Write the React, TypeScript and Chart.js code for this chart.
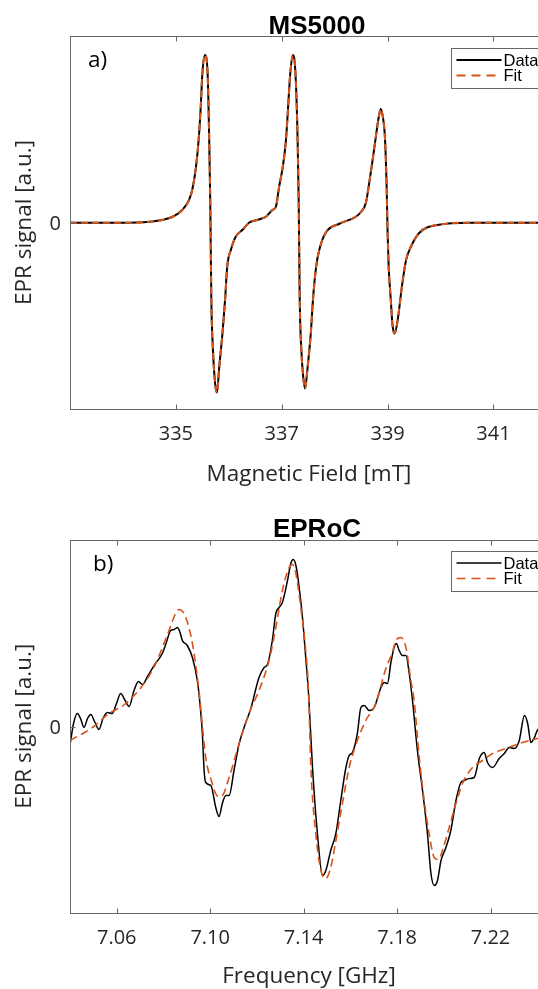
import React, { useEffect, useRef } from "react";
import { Chart, registerables } from "chart.js";

Chart.register(...registerables);

// ---------- Panel a) MS5000 ----------
const fieldA = [
  333.0, 333.93, 334.5, 334.94, 335.125, 335.25, 335.31, 335.38, 335.43, 335.47,
  335.5, 335.55, 335.6, 335.63, 335.65, 335.67, 335.7, 335.74, 335.775, 335.82,
  335.88, 335.93, 335.97, 336.04, 336.13, 336.26, 336.38, 336.55, 336.7, 336.83,
  336.89, 336.95, 337.02, 337.08, 337.14, 337.16, 337.21, 337.26, 337.3, 337.32,
  337.34, 337.37, 337.405, 337.44, 337.49, 337.55, 337.59, 337.65, 337.71, 337.83,
  338.09, 338.4, 338.5, 338.59, 338.65, 338.72, 338.78, 338.83, 338.87, 338.91,
  338.95, 338.98, 339.0, 339.02, 339.06, 339.09, 339.13, 339.18, 339.28, 339.35,
  339.44, 339.6, 339.97, 340.54, 342.0,
];
const signalA = [
  0, 0, 0.01, 0.06, 0.13, 0.23, 0.33, 0.56, 0.83, 1.16,
  1.49, 1.68, 1.49, 0.83, 0.2, -0.77, -1.27, -1.6, -1.7, -1.44,
  -1.11, -0.77, -0.44, -0.27, -0.14, -0.07, 0.0, 0.03, 0.06, 0.13,
  0.16, 0.36, 0.56, 0.83, 1.33, 1.49, 1.68, 1.49, 0.83, 0.23,
  -0.77, -1.27, -1.54, -1.66, -1.44, -1.1, -0.77, -0.44, -0.27, -0.1,
  -0.01, 0.06, 0.11, 0.2, 0.39, 0.64, 0.87, 1.05, 1.14, 1.06,
  0.85, 0.4, -0.1, -0.44, -0.77, -1.01, -1.11, -1.01, -0.6, -0.37,
  -0.24, -0.1, -0.02, 0, 0,
];
// the fit lies exactly on the data in panel a)
const fitFieldA = fieldA;
const fitSignalA = signalA;
const ticksA = [335, 337, 339, 341];
const tickLabelsA = ["335", "337", "339", "341"];

// ---------- Panel b) EPRoC ----------
const freqB = [
  7.04, 7.0403, 7.0416, 7.0431, 7.0445, 7.046, 7.0475, 7.0489, 7.0507, 7.0524,
  7.0541, 7.056, 7.0581, 7.0599, 7.0617, 7.0636, 7.0653, 7.0674, 7.0693, 7.071,
  7.0734, 7.076, 7.0795, 7.0811, 7.0831, 7.0845, 7.086, 7.0871, 7.0881, 7.0902,
  7.0924, 7.0945, 7.0955, 7.0967, 7.0974, 7.0981, 7.1003, 7.1024, 7.1038, 7.1052,
  7.1067, 7.1081, 7.1102, 7.1124, 7.1145, 7.1174, 7.1209, 7.1231, 7.1245, 7.1266,
  7.1281, 7.1295, 7.1309, 7.1331, 7.1345, 7.1356, 7.1367, 7.1381, 7.1395, 7.1409,
  7.1421, 7.1438, 7.1459, 7.1481, 7.1495, 7.1516, 7.1538, 7.1559, 7.1581, 7.1595,
  7.1609, 7.163, 7.1645, 7.1659, 7.1681, 7.1702, 7.1731, 7.1745, 7.1759, 7.1773,
  7.1787, 7.1797, 7.1809, 7.1823, 7.1838, 7.1852, 7.1866, 7.1887, 7.1909, 7.193,
  7.1945, 7.1959, 7.1973, 7.1988, 7.2009, 7.203, 7.2052, 7.2073, 7.2087, 7.2109,
  7.213, 7.2152, 7.2173, 7.2187, 7.2209, 7.2237, 7.2259, 7.228, 7.2302, 7.2323,
  7.2345, 7.2359, 7.2373, 7.2388, 7.24, 7.2446,
];
const signalB = [
  -0.19, -0.14, 0.04, 0.13, 0.08, -0.01, 0.08, 0.12, 0.04, -0.03,
  0.08, 0.14, 0.13, 0.23, 0.33, 0.26, 0.2, 0.36, 0.45, 0.42,
  0.51, 0.61, 0.73, 0.83, 0.96, 0.97, 0.99, 0.94, 0.86, 0.81,
  0.69, 0.46, 0.26, -0.09, -0.44, -0.56, -0.59, -0.81, -0.9, -0.77,
  -0.69, -0.69, -0.44, -0.17, -0.01, 0.18, 0.49, 0.59, 0.62, 0.86,
  1.13, 1.19, 1.24, 1.46, 1.63, 1.67, 1.61, 1.39, 1.09, 0.69,
  0.33, -0.41, -1.07, -1.49, -1.44, -1.24, -1.07, -0.74, -0.41, -0.29,
  -0.26, -0.07, 0.19, 0.21, 0.16, 0.19, 0.39, 0.44, 0.43, 0.63,
  0.79, 0.83, 0.76, 0.71, 0.71, 0.53, 0.26, -0.24, -0.64, -1.07,
  -1.47, -1.59, -1.54, -1.34, -1.21, -1.04, -0.74, -0.56, -0.54, -0.52,
  -0.51, -0.32, -0.26, -0.36, -0.41, -0.32, -0.27, -0.21, -0.22, -0.14,
  0.11, 0.03, -0.16, -0.11, -0.04, 0.02,
];
const fitFreqB = [
  7.04, 7.0496, 7.0567, 7.0639, 7.0752, 7.0824, 7.085, 7.0867, 7.0882, 7.0896,
  7.0924, 7.0952, 7.0981, 7.1009, 7.1023, 7.1035, 7.1052, 7.1081, 7.1124, 7.1166,
  7.1209, 7.1252, 7.1281, 7.1309, 7.1338, 7.1352, 7.1367, 7.1388, 7.1409, 7.1421,
  7.1431, 7.1452, 7.1474, 7.1495, 7.1516, 7.1538, 7.1566, 7.1595, 7.1624, 7.1666,
  7.1709, 7.1752, 7.178, 7.1795, 7.1816, 7.1838, 7.1859, 7.1873, 7.1895, 7.1916,
  7.1937, 7.1959, 7.1977, 7.1994, 7.2023, 7.2052, 7.208, 7.2123, 7.2166, 7.2209,
  7.2266, 7.2323, 7.24, 7.2446,
];
const fitSignalB = [
  -0.14, -0.01, 0.13, 0.23, 0.56, 0.96, 1.12, 1.17, 1.15, 1.09,
  0.83, 0.36, -0.31, -0.57, -0.67, -0.7, -0.69, -0.51, -0.17, 0.13,
  0.36, 0.66, 0.99, 1.36, 1.59, 1.62, 1.53, 1.19, 0.76, 0.36,
  -0.41, -1.07, -1.44, -1.52, -1.41, -1.14, -0.77, -0.41, -0.18, 0.06,
  0.23, 0.58, 0.74, 0.86, 0.89, 0.79, 0.46, 0.26, -0.31, -0.74,
  -1.07, -1.31, -1.33, -1.24, -1.01, -0.77, -0.57, -0.41, -0.34, -0.27,
  -0.22, -0.17, -0.12, -0.09,
];
const ticksB = [7.06, 7.1, 7.14, 7.18, 7.22];
const tickLabelsB = ["7.06", "7.10", "7.14", "7.18", "7.22"];

const yTicks = [0];
const yTickLabels = ["0"];
const legendLabels = ["Data", "Fit"];

const ORANGE = "#D95319";
const AXIS_COLOR = "#666666";
const TEXT_COLOR = "#262626";
const TICK_FONT = '20px "Open Sans", Lato, sans-serif';
const LABEL_FONT = '22.5px "Open Sans", Lato, sans-serif';
const TITLE_FONT = 'bold 26px "Liberation Sans", Arial, sans-serif';
const LEGEND_FONT = '16.5px "Liberation Sans", Arial, sans-serif';

const CANVAS_W = 560;

type PanelCfg = {
  title: string;
  letter: string;
  letterDx: number;
  xLabel: string;
  yLabel: string;
  x: number[];
  y: number[];
  fx: number[];
  fy: number[];
  xMin: number;
  xMax: number;
  xTicks: number[];
  xTickLabels: string[];
  padTop: number;
  padBottom: number;
  xLabelDy: number;
  dataW: number;
  fitW: number;
  dash: number[];
};

function framePlugin(p: PanelCfg) {
  return {
    id: "matlabFrame",
    afterDraw(chart: any) {
      const { ctx, chartArea: a } = chart;
      const xs = chart.scales.x;
      const ys = chart.scales.y;
      const L = Math.round(a.left) + 0.5;
      const R = Math.round(a.right) + 0.5;
      const T = Math.round(a.top) + 0.5;
      const B = Math.round(a.bottom) + 0.5;
      ctx.save();
      // axes box
      ctx.strokeStyle = AXIS_COLOR;
      ctx.lineWidth = 1;
      ctx.setLineDash([]);
      ctx.strokeRect(L, T, R - L, B - T);
      // inward ticks
      ctx.beginPath();
      p.xTicks.forEach((v) => {
        const px = Math.round(xs.getPixelForValue(v)) + 0.5;
        ctx.moveTo(px, B);
        ctx.lineTo(px, B - 5);
        ctx.moveTo(px, T);
        ctx.lineTo(px, T + 5);
      });
      yTicks.forEach((v) => {
        const py = Math.round(ys.getPixelForValue(v)) + 0.5;
        ctx.moveTo(L, py);
        ctx.lineTo(L + 5, py);
        ctx.moveTo(R, py);
        ctx.lineTo(R - 5, py);
      });
      ctx.stroke();

      // tick labels
      ctx.fillStyle = TEXT_COLOR;
      ctx.font = TICK_FONT;
      ctx.textAlign = "center";
      ctx.textBaseline = "alphabetic";
      p.xTicks.forEach((v, i) => {
        ctx.fillText(p.xTickLabels[i], xs.getPixelForValue(v), a.bottom + 30.5);
      });
      ctx.textAlign = "right";
      yTicks.forEach((v, i) => {
        ctx.fillText(yTickLabels[i], a.left - 9, ys.getPixelForValue(v) + 7.5);
      });

      // axis titles
      ctx.font = LABEL_FONT;
      ctx.textAlign = "center";
      ctx.fillText(p.xLabel, (a.left + a.right) / 2, a.bottom + p.xLabelDy);
      ctx.save();
      ctx.translate(30.5, (a.top + a.bottom) / 2);
      ctx.rotate(-Math.PI / 2);
      ctx.fillText(p.yLabel, 0, 0);
      ctx.restore();

      // panel letter
      ctx.fillStyle = "#000";
      ctx.textAlign = "left";
      ctx.fillText(p.letter, a.left + p.letterDx, a.top + 31);

      // title
      ctx.font = TITLE_FONT;
      ctx.textAlign = "center";
      ctx.fillText(p.title, (a.left + a.right) / 2 + 8, a.top - 2.5);

      // legend
      const bx = Math.round(a.left + 381) + 0.5;
      const by = Math.round(a.top + 11.5) + 0.5;
      const bw = 100;
      const bh = 40;
      ctx.fillStyle = "#ffffff";
      ctx.fillRect(bx, by, bw, bh);
      ctx.strokeStyle = AXIS_COLOR;
      ctx.lineWidth = 1;
      ctx.strokeRect(bx, by, bw, bh);
      const rows = [
        { color: "#000000", dash: [] as number[], w: p.dataW },
        { color: ORANGE, dash: [9, 6], w: p.fitW },
      ];
      ctx.font = LEGEND_FONT;
      ctx.textAlign = "left";
      ctx.textBaseline = "middle";
      rows.forEach((r, i) => {
        const ry = by + 11.5 + i * 15.5;
        ctx.beginPath();
        ctx.strokeStyle = r.color;
        ctx.lineWidth = r.w;
        ctx.setLineDash(r.dash);
        ctx.moveTo(bx + 5, ry);
        ctx.lineTo(bx + 50, ry);
        ctx.stroke();
        ctx.setLineDash([]);
        ctx.fillStyle = "#000";
        ctx.fillText(legendLabels[i], bx + 52, ry + 1);
      });
      ctx.restore();
    },
  };
}

function buildConfig(p: PanelCfg): any {
  return {
    type: "line",
    data: {
      datasets: [
        {
          label: legendLabels[0],
          data: p.x.map((x, i) => ({ x, y: p.y[i] })),
          borderColor: "#000000",
          borderWidth: p.dataW,
          pointRadius: 0,
          fill: false,
          cubicInterpolationMode: "monotone",
          order: 1,
        },
        {
          label: legendLabels[1],
          data: p.fx.map((x, i) => ({ x, y: p.fy[i] })),
          borderColor: ORANGE,
          borderWidth: p.fitW,
          borderDash: p.dash,
          pointRadius: 0,
          fill: false,
          cubicInterpolationMode: "monotone",
          order: 0,
        },
      ],
    },
    options: {
      responsive: false,
      animation: false,
      devicePixelRatio: 1,
      events: [],
      layout: {
        padding: { left: 70, right: 12, top: p.padTop, bottom: p.padBottom },
      },
      plugins: {
        legend: { display: false },
        title: { display: false },
        tooltip: { enabled: false },
      },
      scales: {
        x: { type: "linear", display: false, min: p.xMin, max: p.xMax },
        y: { type: "linear", display: false, min: -1.865, max: 1.87 },
      },
    },
    plugins: [framePlugin(p)],
  };
}

const panelA: PanelCfg = {
  title: "MS5000",
  letter: "a)",
  letterDx: 18,
  xLabel: "Magnetic Field [mT]",
  yLabel: "EPR signal [a.u.]",
  x: fieldA,
  y: signalA,
  fx: fitFieldA,
  fy: fitSignalA,
  xMin: 333,
  xMax: 342.03,
  xTicks: ticksA,
  xTickLabels: tickLabelsA,
  padTop: 36,
  padBottom: 85,
  xLabelDy: 71.5,
  dataW: 2,
  fitW: 2,
  dash: [7, 4],
};

const panelB: PanelCfg = {
  title: "EPRoC",
  letter: "b)",
  letterDx: 23,
  xLabel: "Frequency [GHz]",
  yLabel: "EPR signal [a.u.]",
  x: freqB,
  y: signalB,
  fx: fitFreqB,
  fy: fitSignalB,
  xMin: 7.04,
  xMax: 7.2446,
  xTicks: ticksB,
  xTickLabels: tickLabelsB,
  padTop: 45.5,
  padBottom: 76,
  xLabelDy: 70,
  dataW: 1.5,
  fitW: 1.6,
  dash: [8, 4.5],
};

function Panel({ top, height, cfg }: { top: number; height: number; cfg: PanelCfg }) {
  const ref = useRef<HTMLCanvasElement>(null);
  useEffect(() => {
    if (!ref.current) return;
    const chart = new Chart(ref.current, buildConfig(cfg));
    return () => chart.destroy();
  }, [cfg]);
  return (
    <canvas
      ref={ref}
      width={CANVAS_W}
      height={height}
      style={{ position: "absolute", left: 0, top, width: CANVAS_W, height, display: "block" }}
    />
  );
}

export default function App() {
  return (
    <div
      style={{
        position: "absolute",
        left: 0,
        top: 0,
        width: 538,
        height: 989,
        overflow: "hidden",
        background: "#ffffff",
      }}
    >
      <Panel top={0} height={494} cfg={panelA} />
      <Panel top={494} height={495} cfg={panelB} />
    </div>
  );
}
